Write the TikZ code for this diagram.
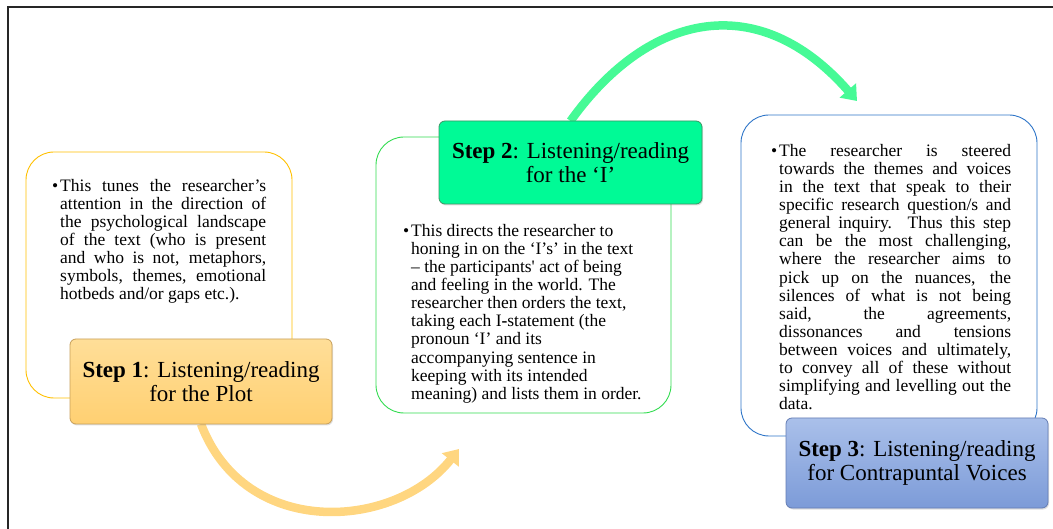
\documentclass[tikz,border=0pt]{standalone}
\usepackage{fontspec}
\setmainfont{Liberation Serif}
\usetikzlibrary{arrows.meta,shadows}
\newcommand{\straightapos}{\XeTeXglyph\XeTeXcharglyph"27\relax}
\newcommand{\bul}{\makebox[8pt][l]{•}}
\newcommand{\ind}{\hspace*{8pt}}
\definecolor{ybord}{RGB}{255,192,0}
\definecolor{gbord}{RGB}{50,220,80}
\definecolor{bbord}{RGB}{46,117,200}
\definecolor{ytop}{RGB}{255,222,152}
\definecolor{ybot}{RGB}{255,208,114}
\definecolor{yline}{RGB}{200,160,90}
\definecolor{gfill}{RGB}{0,250,150}
\definecolor{gline}{RGB}{60,150,100}
\definecolor{btop}{RGB}{170,192,234}
\definecolor{bbot}{RGB}{124,155,216}
\definecolor{bline}{RGB}{100,125,180}
\definecolor{yarrow}{RGB}{255,214,128}
\definecolor{garrow}{RGB}{70,250,150}
\begin{document}
\begin{tikzpicture}[x=1pt,y=-1pt,
  tbox/.style={rectangle, rounded corners=28pt, line width=0.9pt, fill=white, inner sep=0pt},
  lbl/.style={rectangle, rounded corners=6pt, line width=0.8pt, align=center, inner sep=0pt,
    font=\fontsize{23}{23.7}\selectfont,
    drop shadow={opacity=0.25, shadow xshift=1pt, shadow yshift=-1.5pt}},
  body/.style={inner sep=0pt, anchor=base west, font=\fontsize{17.5}{18.05}\selectfont},
  flow/.style={line width=8.5pt, -{Triangle[length=14pt,width=21pt]}}
]
\useasboundingbox (0,0) rectangle (1053,529);
% frame
\draw[line width=1.6pt, black!85] (8,529) -- (8,7) -- (1053,7);

% free ends of the arrows
\coordinate (yend) at (459,449);
\coordinate (gend) at (857,101);

% text boxes
\node[tbox, draw=ybord, minimum width=266pt, minimum height=246pt] (b1) at (159,275) {};
\node[tbox, draw=gbord, minimum width=295pt, minimum height=276pt] (b2) at (523.5,275) {};
\node[tbox, draw=bbord, minimum width=296pt, minimum height=321pt] (b3) at (889,275.5) {};

% label anchors for the arrows
\coordinate (l1s) at (201,424);
\coordinate (l2n) at (570.5,121);

% arrows
\draw[flow, yarrow] (l1s) .. controls (245,540) and (395,530) .. (yend);
\draw[flow, garrow] (l2n) .. controls (650,10) and (760,-10) .. (gend);

% body texts
\node[body] (t1) at (52,191.5) {\parbox[t]{230pt}{%
\bul\makebox[206pt][s]{This tunes the researcher’s}\\
\ind\makebox[206pt][s]{attention in the direction of}\\
\ind\makebox[206pt][s]{the psychological landscape}\\
\ind\makebox[206pt][s]{of the text (who is present}\\
\ind\makebox[206pt][s]{and who is not, metaphors,}\\
\ind\makebox[206pt][s]{symbols, themes, emotional}\\
\ind hotbeds and/or gaps etc.).}};

\node[body] (t2) at (403,236.7) {\parbox[t]{260pt}{\raggedright
\bul This directs the researcher to\\
\ind honing in on the ‘I’s’ in the text\\
\ind – the participants\straightapos{} act of being\\
\ind and feeling in the world. The\\
\ind researcher then orders the text,\\
\ind taking each I\textbf{-}statement (the\\
\ind pronoun ‘I’ and its\\
\ind accompanying sentence in\\
\ind keeping with its intended\\
\ind meaning) and lists them in order.}};

\node[body] (t3) at (771,156.7) {\parbox[t]{260pt}{%
\bul\makebox[232pt][s]{The researcher is steered}\\
\ind\makebox[232pt][s]{towards the themes and voices}\\
\ind\makebox[232pt][s]{in the text that speak to their}\\
\ind\makebox[232pt][s]{specific research question/s and}\\
\ind\makebox[232pt][s]{general inquiry. Thus this step}\\
\ind\makebox[232pt][s]{can be the most challenging,}\\
\ind\makebox[232pt][s]{where the researcher aims to}\\
\ind\makebox[232pt][s]{pick up on the nuances, the}\\
\ind\makebox[232pt][s]{silences of what is not being}\\
\ind\makebox[232pt][s]{said, the agreements,}\\
\ind\makebox[232pt][s]{dissonances and tensions}\\
\ind\makebox[232pt][s]{between voices and ultimately,}\\
\ind\makebox[232pt][s]{to convey all of these without}\\
\ind\makebox[232pt][s]{simplifying and levelling out the}\\
\ind data.}};

% step labels
\node[lbl, draw=yline, top color=ytop, bottom color=ybot,
  minimum width=262pt, minimum height=85pt] (l1) at (201,381.5)
  {\textbf{Step 1}: Listening/reading\\for the Plot};
\node[lbl, draw=gline, fill=gfill,
  minimum width=263pt, minimum height=83pt] (l2) at (570.5,162.5)
  {\textbf{Step 2}: Listening/reading\\for the ‘I’};
\node[lbl, draw=bline, top color=btop, bottom color=bbot,
  minimum width=262pt, minimum height=90pt] (l3) at (917,463)
  {\textbf{Step 3}: Listening/reading\\for Contrapuntal Voices};
\end{tikzpicture}
\end{document}
